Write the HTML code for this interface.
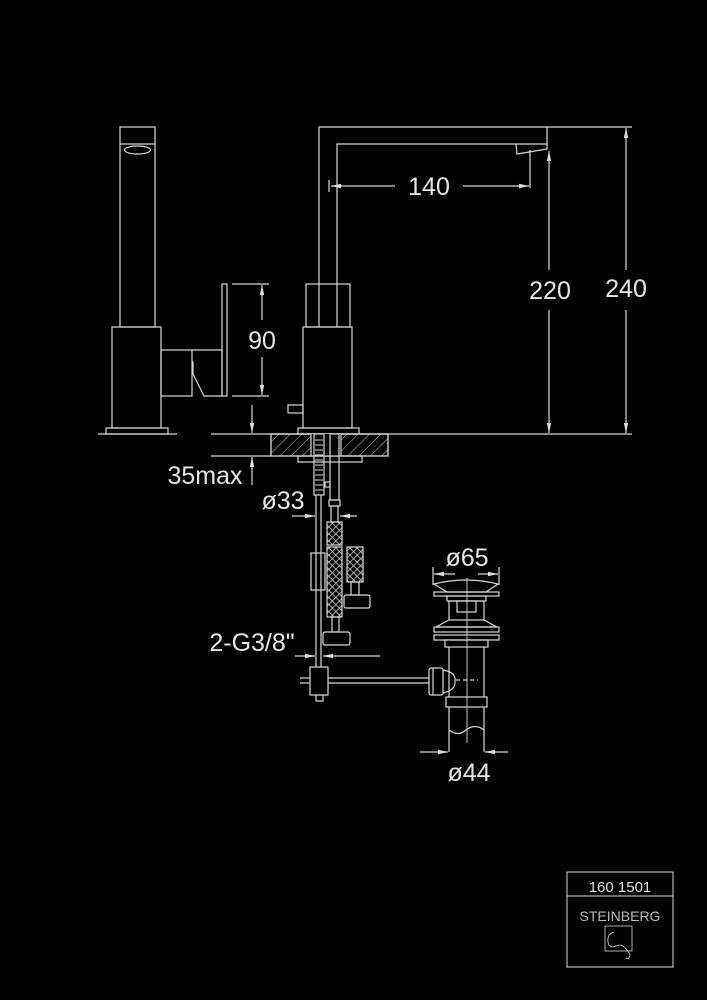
<!DOCTYPE html>
<html><head><meta charset="utf-8"><style>
html,body{margin:0;padding:0;background:#000;}
svg{display:block}
text{font-family:"Liberation Sans",sans-serif;fill:#e6e6e6}
</style></head><body>
<svg width="707" height="1000" viewBox="0 0 707 1000" xmlns="http://www.w3.org/2000/svg">
<defs>
<pattern id="hatch" width="8" height="8" patternUnits="userSpaceOnUse" patternTransform="rotate(45)">
<line x1="0" y1="0" x2="0" y2="8" stroke="#ccc" stroke-width="1"/>
</pattern>
<pattern id="braid" width="5" height="5" patternUnits="userSpaceOnUse" patternTransform="rotate(45)">
<rect width="5" height="5" fill="none" stroke="#ccc" stroke-width="0.8"/>
</pattern>
<marker id="ar" viewBox="0 0 10 6" refX="10" refY="3" markerWidth="10" markerHeight="6" orient="auto-start-reverse" markerUnits="userSpaceOnUse">
<path d="M0,0.8 L10,3 L0,5.2 Z" fill="#ddd"/>
</marker>
</defs>
<rect width="707" height="1000" fill="#000"/>
<g fill="none" stroke="#d8d8d8" stroke-width="1.2">
<rect x="120" y="127" width="35" height="200"/>
<line x1="120" y1="144" x2="155" y2="144"/>
<ellipse cx="137.5" cy="150" rx="13" ry="4"/>
<rect x="112" y="327" width="49" height="101"/>
<rect x="106" y="428" width="62" height="6"/>
<line x1="98" y1="434" x2="177" y2="434"/>
<rect x="161" y="350" width="31" height="46"/>
<path d="M192,350 L222,350 L222,396 L204,396 L193,374 L193,362 L192,362"/>
<rect x="222" y="284" width="5" height="112"/>
<line x1="232" y1="284" x2="269" y2="284"/>
<line x1="232" y1="396" x2="269" y2="396"/>
<line x1="262" y1="320" x2="262" y2="285" marker-end="url(#ar)"/>
<line x1="262" y1="357" x2="262" y2="395" marker-end="url(#ar)"/>
<path d="M319,327 L319,127 L547,127 L547,144 L337,144 L337,284"/>
<line x1="337" y1="284" x2="337" y2="327"/>
<path d="M516,144 L517,154 L547,149 L547,144"/>
<line x1="547" y1="127" x2="632" y2="127"/>
<rect x="306" y="284" width="44" height="43"/>
<rect x="303" y="327" width="49" height="101"/>
<rect x="298" y="428" width="61" height="6"/>
<rect x="288" y="405" width="15" height="8"/>
<line x1="211" y1="434" x2="632" y2="434"/>
<line x1="211" y1="456" x2="271" y2="456"/>
<rect x="271" y="434" width="117" height="22" fill="url(#hatch)"/>
<rect x="271" y="434" width="117" height="22"/>
<rect x="311" y="434" width="30" height="22" fill="#000" stroke="none"/>
<line x1="311" y1="434" x2="311" y2="456"/>
<line x1="341" y1="434" x2="341" y2="456"/>
<rect x="298" y="456" width="64" height="6"/>
<line x1="329" y1="180" x2="329" y2="192"/>
<line x1="530" y1="150" x2="530" y2="188"/>
<line x1="395" y1="186" x2="331" y2="186" marker-end="url(#ar)"/>
<line x1="463" y1="186" x2="529" y2="186" marker-end="url(#ar)"/>
<line x1="549" y1="270" x2="549" y2="151" marker-end="url(#ar)"/>
<line x1="549" y1="310" x2="549" y2="433" marker-end="url(#ar)"/>
<line x1="626" y1="270" x2="626" y2="128" marker-end="url(#ar)"/>
<line x1="626" y1="310" x2="626" y2="433" marker-end="url(#ar)"/>
<line x1="252" y1="405" x2="252" y2="433" marker-end="url(#ar)"/>
<line x1="252" y1="485" x2="252" y2="457" marker-end="url(#ar)"/>
<rect x="314" y="434" width="10" height="61"/>
<path d="M315,440 h8 M315,445 h8 M315,450 h8 M315,455 h8 M315,460 h8 M315,465 h8 M315,470 h8 M315,475 h8 M315,480 h8 M315,485 h8 M315,490 h8" stroke-width="0.9"/>
<line x1="316" y1="495" x2="316" y2="667"/>
<line x1="321" y1="495" x2="321" y2="667"/>
<rect x="330" y="434" width="9" height="66"/>
<rect x="325" y="482" width="5" height="5"/>
<rect x="329" y="500" width="11" height="6"/>
<rect x="331" y="506" width="7" height="16"/>
<rect x="327" y="522" width="15" height="23" fill="url(#braid)"/>
<rect x="327" y="547" width="15" height="70" fill="url(#braid)"/>
<rect x="332" y="617" width="7" height="15"/>
<rect x="323" y="632" width="27" height="13" rx="2"/>
<rect x="347" y="547" width="16" height="35" fill="url(#braid)"/>
<rect x="351" y="582" width="8" height="13"/>
<rect x="344" y="595" width="26" height="13" rx="2"/>
<rect x="311" y="553" width="14" height="37"/>
<line x1="292" y1="516" x2="315" y2="516" marker-end="url(#ar)"/>
<line x1="357" y1="516" x2="340" y2="516" marker-end="url(#ar)"/>
<line x1="295" y1="656" x2="315" y2="656" marker-end="url(#ar)"/>
<line x1="380" y1="656" x2="323" y2="656" marker-end="url(#ar)"/>
<rect x="310" y="667" width="18" height="28"/>
<rect x="316" y="695" width="7" height="6"/>
<line x1="300" y1="678" x2="310" y2="678"/>
<line x1="300" y1="683" x2="310" y2="683"/>
<line x1="328" y1="678" x2="429" y2="678"/>
<line x1="328" y1="683" x2="429" y2="683"/>
<rect x="429" y="668" width="14" height="27" rx="2"/>
<line x1="433" y1="668" x2="433" y2="695"/>
<path d="M443,670 Q456,672 455,681 Q456,690 443,693"/>
<line x1="433" y1="567" x2="433" y2="585"/>
<line x1="499" y1="567" x2="499" y2="585"/>
<line x1="455" y1="574" x2="434" y2="574" marker-end="url(#ar)"/>
<line x1="478" y1="574" x2="498" y2="574" marker-end="url(#ar)"/>
<path d="M434,584 Q466,576 498,584 L486,592 L447,592 Z"/>
<rect x="434" y="592" width="65" height="4"/>
<rect x="447" y="596" width="39" height="5"/>
<rect x="449" y="601" width="35" height="19"/>
<rect x="457" y="601" width="19" height="11"/>
<path d="M449,620 L436,627 L497,627 L484,620"/>
<rect x="434" y="627" width="65" height="5"/>
<rect x="434" y="635" width="65" height="5"/>
<rect x="445" y="640" width="43" height="7"/>
<line x1="449" y1="647" x2="449" y2="697"/>
<line x1="484" y1="647" x2="484" y2="697"/>
<rect x="446" y="697" width="41" height="10"/>
<line x1="449" y1="707" x2="449" y2="752"/>
<line x1="484" y1="707" x2="484" y2="752"/>
<path d="M449,730 Q458,737 466,730 Q475,723 484,730" />
<line x1="467" y1="578" x2="467" y2="743" stroke-width="0.9"/>
<line x1="456" y1="680" x2="478" y2="680" stroke-dasharray="4,3"/>
<line x1="420" y1="752" x2="448" y2="752" marker-end="url(#ar)"/>
<line x1="508" y1="752" x2="485" y2="752" marker-end="url(#ar)"/>
<rect x="567" y="872" width="106" height="95" stroke-width="1"/>
<line x1="567" y1="896" x2="673" y2="896" stroke-width="1"/>
<rect x="605" y="926" width="27" height="25" stroke-width="0.8"/>
<path d="M614,932 Q607,934 608,942 Q609,949 616,946 Q621,944 623,946 Q628,950 630,955 Q629,960 626,958" stroke-width="0.8"/>
</g>
<g font-size="25">
<text x="262" y="349" text-anchor="middle">90</text>
<text x="429" y="195" text-anchor="middle">140</text>
<text x="550" y="299" text-anchor="middle">220</text>
<text x="626" y="297" text-anchor="middle">240</text>
<text x="205" y="484" text-anchor="middle">35max</text>
<text x="283" y="509" text-anchor="middle">ø33</text>
<text x="252" y="651" text-anchor="middle">2-G3/8"</text>
<text x="467" y="566" text-anchor="middle">ø65</text>
<text x="469" y="781" text-anchor="middle">ø44</text>
</g>
<text x="620" y="892" text-anchor="middle" font-size="15">160 1501</text>
<text x="620" y="921" text-anchor="middle" font-size="14" style="fill:#bbb">STEINBERG</text>
</svg>
</body></html>
